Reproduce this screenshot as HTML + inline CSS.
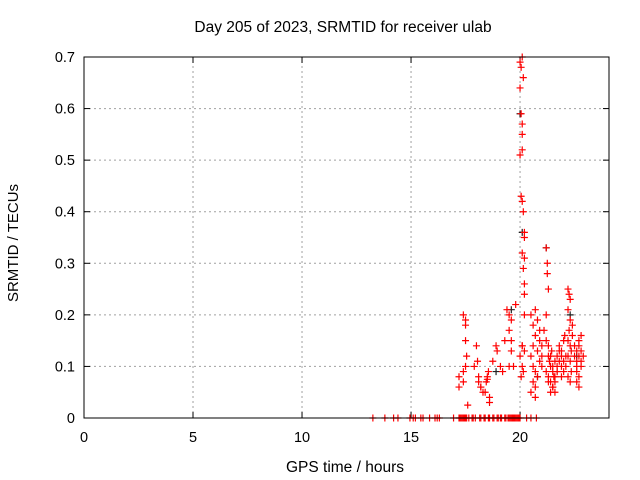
<!DOCTYPE html>
<html><head><meta charset="utf-8"><style>
body{margin:0;background:#fff;}
svg{display:block;font-family:"Liberation Sans",sans-serif;}
</style></head><body>
<svg id="chart" width="640" height="480">
<text x="343" y="32" font-size="15.5" text-anchor="middle">Day 205 of 2023, SRMTID for receiver ulab</text>
<text x="345" y="472" font-size="15.5" text-anchor="middle">GPS time / hours</text>
<text transform="translate(18,243) rotate(-90)" font-size="15" text-anchor="middle">SRMTID / TECUs</text>
<g id="grid"></g><g id="axes"></g><g id="marks"></g>
<rect x="84" y="57" width="525" height="361" fill="none" stroke="#000" stroke-width="1"/>
</svg>
<script>
const xTicks=[0,5,10,15,20];
const yTicks=[0,0.1,0.2,0.3,0.4,0.5,0.6,0.7];
const yTickLabels=["0","0.1","0.2","0.3","0.4","0.5","0.6","0.7"];
const zeroHours=[13.25,13.8,14.2,14.4,14.95,15.1,15.2,15.45,15.55,15.85,16.1,16.2,16.3,16.95,17.2,17.25,17.3,17.35,17.4,17.45,17.5,17.55,17.65,17.8,17.85,17.95,18.15,18.2,18.35,18.4,18.55,18.6,18.75,18.8,18.95,19.0,19.1,19.15,19.3,19.35,19.45,19.5,19.55,19.6,19.65,19.7,19.75,19.8,19.85,19.9,19.95,20.0,20.3,20.5,20.75];
const hours=[17.4,17.5,17.5,17.5,17.55,17.5,17.4,17.4,17.2,17.2,
18.0,18.05,17.9,18.1,18.1,18.2,18.3,18.2,17.6,18.5,18.45,18.4,18.6,18.6,18.5,18.55,18.9,18.95,19.1,18.75,19.2,
19.4,19.5,19.6,19.5,19.6,19.6,19.7,19.8,19.3,19.5,
20.0,20.1,20.05,20.15,20.0,20.05,20.1,20.1,20.0,20.1,20.05,20.1,20.15,20.2,20.2,20.1,20.2,20.15,20.2,20.2,20.2,20.1,20.0,20.1,20.15,20.05,20.1,20.2,
20.5,20.6,20.7,20.7,20.8,20.6,20.5,20.6,20.7,20.8,20.9,20.6,20.7,20.8,20.9,20.5,20.7,21.0,21.0,20.9,21.0,
21.2,21.25,21.25,21.3,21.2,21.1,21.2,21.3,21.4,21.5,21.3,21.4,21.5,21.6,21.35,21.45,21.55,21.7,21.3,21.4,21.5,21.6,21.7,21.8,21.9,21.2,21.3,21.5,21.6,21.7,21.8,21.4,21.5,21.6,21.7,21.9,22.0,22.1,21.8,21.9,22.0,22.05,21.9,22.0,
22.2,22.25,22.3,22.2,22.3,22.25,22.2,22.3,22.35,22.4,22.2,22.1,22.3,22.2,22.35,22.3,22.4,
22.5,22.6,22.7,22.8,22.6,22.7,22.8,22.5,22.6,22.7,22.8,22.9,22.6,22.7,22.8,22.6,22.7];
const values=[0.20,0.19,0.18,0.15,0.12,0.10,0.09,0.07,0.08,0.06,
0.14,0.11,0.10,0.08,0.07,0.06,0.05,0.06,0.025,0.08,0.07,0.05,0.04,0.03,0.075,0.09,0.14,0.13,0.10,0.11,0.09,
0.21,0.20,0.19,0.17,0.15,0.13,0.10,0.22,0.15,0.10,
0.69,0.70,0.68,0.66,0.64,0.59,0.57,0.55,0.51,0.52,0.43,0.42,0.40,0.36,0.35,0.32,0.31,0.29,0.26,0.24,0.20,0.14,0.12,0.10,0.09,0.08,0.14,0.13,
0.20,0.18,0.16,0.21,0.19,0.14,0.12,0.10,0.09,0.13,0.15,0.07,0.06,0.08,0.11,0.05,0.04,0.12,0.10,0.17,0.14,
0.33,0.30,0.28,0.25,0.20,0.17,0.15,0.12,0.10,0.09,0.08,0.07,0.06,0.05,0.11,0.13,0.08,0.10,0.14,0.12,0.06,0.07,0.09,0.11,0.08,0.09,0.07,0.10,0.11,0.12,0.13,0.05,0.06,0.08,0.09,0.10,0.11,0.12,0.14,0.13,0.15,0.16,0.12,0.09,
0.25,0.24,0.23,0.21,0.19,0.17,0.15,0.14,0.13,0.16,0.12,0.10,0.11,0.08,0.09,0.07,0.18,
0.14,0.13,0.12,0.11,0.10,0.15,0.16,0.12,0.09,0.08,0.13,0.12,0.11,0.14,0.10,0.07,0.06];
const blackHours=[20.0,20.1,21.2,19.6,22.3,18.9,20.8,22.6];
const blackValues=[0.59,0.36,0.33,0.21,0.2,0.09,0.08,0.12];
const X0=84,X1=609,Y0=418,Y1=57,XMAX=24.08,YMAX=0.7;
function sx(h){return X0+(X1-X0)*h/XMAX;}
function sy(v){return Y0-(Y0-Y1)*v/YMAX;}
const NS="http://www.w3.org/2000/svg";
const grid=document.getElementById('grid'),axes=document.getElementById('axes'),marks=document.getElementById('marks');
function mk(tag,attrs,parent){const e=document.createElementNS(NS,tag);for(const k in attrs)e.setAttribute(k,attrs[k]);parent.appendChild(e);return e;}
xTicks.forEach(t=>{const x=sx(t);
 if(t>0){const g=mk('line',{x1:x,x2:x,y1:Y0,y2:Y1,stroke:'#a0a0a0','stroke-dasharray':'2,3'},grid);
 
 }
 mk('line',{x1:x,x2:x,y1:Y0,y2:Y0-6,stroke:'#000'},axes);
 mk('line',{x1:x,x2:x,y1:Y1,y2:Y1+6,stroke:'#000'},axes);
 const l=mk('text',{x:x,y:Y0+24,'font-size':14.5,'text-anchor':'middle'},axes);l.textContent=t;
 
 });
yTicks.forEach((t,i)=>{const y=sy(t);
 if(t>0&&t<0.7){const g=mk('line',{x1:X0,x2:X1,y1:y,y2:y,stroke:'#a0a0a0','stroke-dasharray':'2,3'},grid);
 
 }
 mk('line',{x1:X0,x2:X0+6,y1:y,y2:y,stroke:'#000'},axes);
 mk('line',{x1:X1,x2:X1-6,y1:y,y2:y,stroke:'#000'},axes);
 const l=mk('text',{x:X0-9,y:y+5,'font-size':14.5,'text-anchor':'end'},axes);l.textContent=yTickLabels[i];
 
 });
function cross(h,v,color,name){const x=sx(h),y=sy(v);
 const p=mk('path',{d:`M${x-3.5},${y}H${x+3.5}M${x},${y-3.5}V${y+3.5}`,stroke:color,'stroke-width':1.2,fill:'none'},marks);
 
 }
blackHours.forEach((h,i)=>cross(h,blackValues[i],'#222','black-point'));
zeroHours.forEach(h=>cross(h,0,'#f00','zero-point'));
hours.forEach((h,i)=>cross(h,values[i],'#f00','srmtid-point'));
</script>
</body></html>
